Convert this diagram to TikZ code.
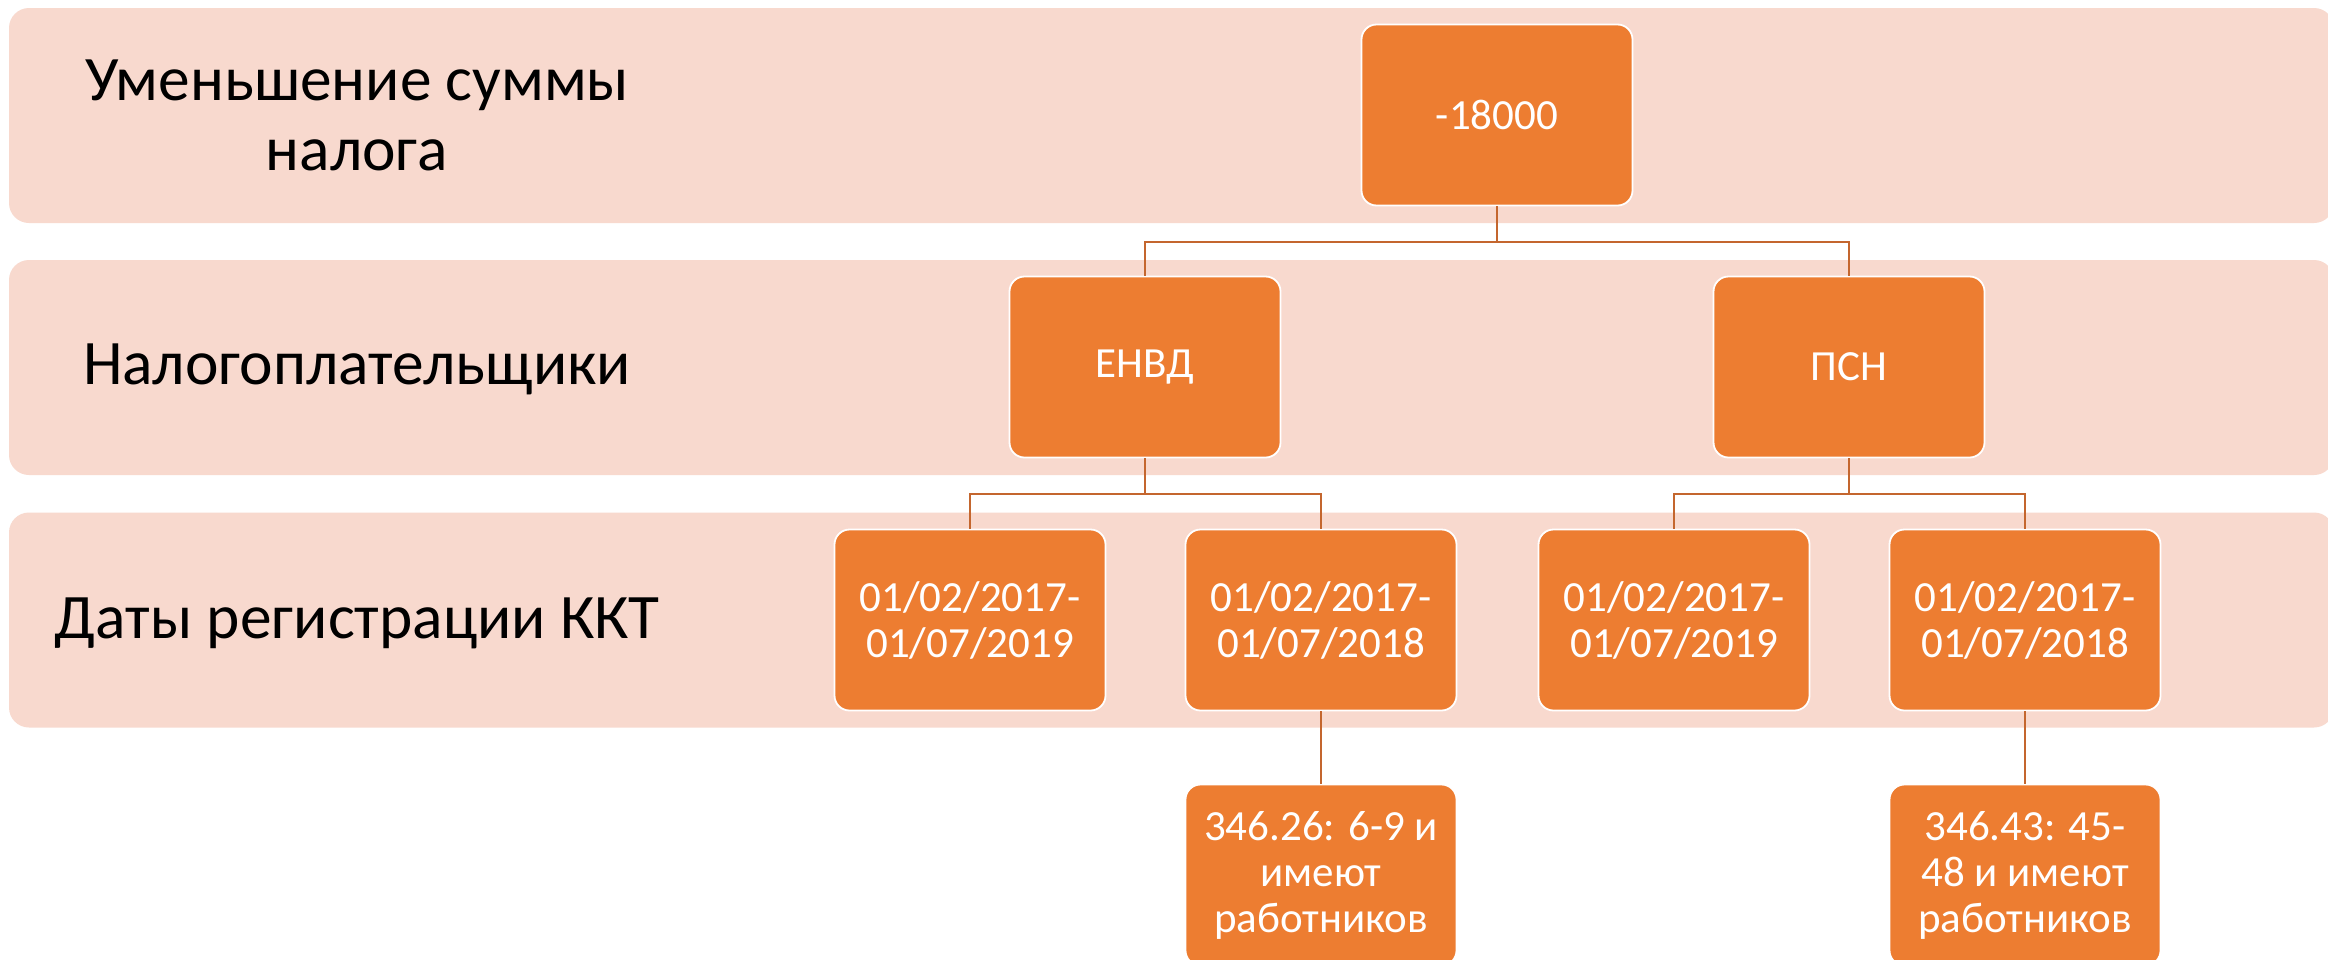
\documentclass[tikz,border=0pt]{standalone}
\usepackage{fontspec}
\setmainfont{Carlito}
\definecolor{bandcol}{HTML}{F8D9CE}
\definecolor{boxcol}{HTML}{ED7D31}
\definecolor{conncol}{HTML}{C4662E}
\begin{document}
\begin{tikzpicture}[x=0.5pt,y=-0.5pt,
  bandbox/.style={fill=bandcol, draw=none, rounded corners=10pt, minimum width=1162.5pt, minimum height=107.5pt, inner sep=0pt},
  orgbox/.style={fill=boxcol, draw=white, line width=0.9pt, rounded corners=7.5pt, minimum width=135.5pt, minimum height=90.5pt, inner sep=0pt, align=center, text=white, font=\fontsize{21.5}{23}\selectfont},
  rowlabel/.style={align=center, text=black, inner sep=0pt, font=\fontsize{31.7}{35}\selectfont},
  connline/.style={draw=conncol, line width=1pt}]
\useasboundingbox (0,0) rectangle (2328,959);
\fill[white] (0,0) rectangle (2328,959);
% bands
\node[bandbox] (band1) at (1171.5,115.5) {};
\node[bandbox] (band2) at (1171.5,367.5) {};
\node[bandbox] (band3) at (1171.5,620) {};
% row labels
\node[rowlabel] (lab1) at (357,115) {Уменьшение суммы\\налога};
\node[rowlabel] (lab2) at (357,369) {Налогоплательщики};
\node[rowlabel] (lab3) at (357,623) {Даты регистрации ККТ};
% boxes
\node[orgbox] (top) at (1497,115) {-18000};
\node[orgbox] (envd) at (1145,367) {ЕНВД};
\node[orgbox] (psn) at (1849,367) {ПСН};
\node[orgbox] (a) at (970,620) {01/02/2017-\\01/07/2019};
\node[orgbox] (b) at (1321,620) {01/02/2017-\\01/07/2018};
\node[orgbox] (c) at (1674,620) {01/02/2017-\\01/07/2019};
\node[orgbox] (d) at (2025,620) {01/02/2017-\\01/07/2018};
\node[orgbox] (e) at (1321,875) {346.26: 6-9 и\\имеют\\работников};
\node[orgbox] (f) at (2025,875) {346.43: 45-\\48 и имеют\\работников};
% connectors
\draw[connline] (top.south) -- ++(0,36) -| (envd.north);
\draw[connline] (top.south) -- ++(0,36) -| (psn.north);
\draw[connline] (envd.south) -- ++(0,36) -| (a.north);
\draw[connline] (envd.south) -- ++(0,36) -| (b.north);
\draw[connline] (psn.south) -- ++(0,36) -| (c.north);
\draw[connline] (psn.south) -- ++(0,36) -| (d.north);
\draw[connline] (b.south) -- (e.north);
\draw[connline] (d.south) -- (f.north);
\end{tikzpicture}
\end{document}
